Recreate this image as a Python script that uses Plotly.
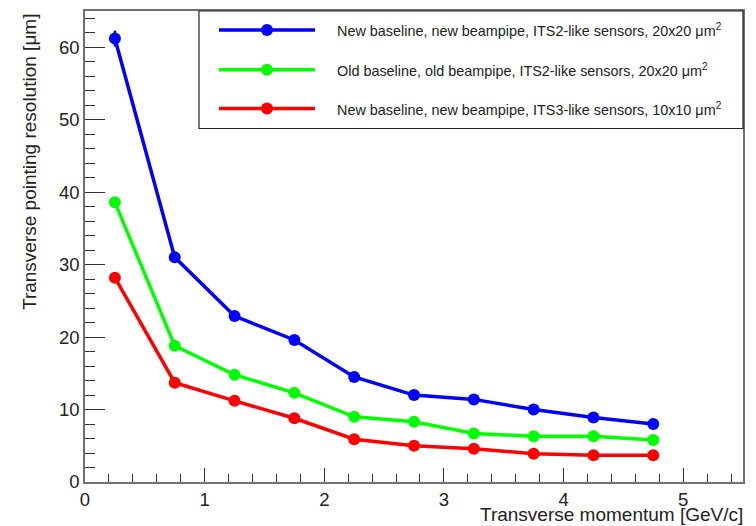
import plotly.graph_objects as go

# ---- data ----
pt = [0.25, 0.75, 1.25, 1.75, 2.25, 2.75, 3.25, 3.75, 4.25, 4.75]
res_new_its2 = [61.2, 31.0, 22.9, 19.6, 14.5, 12.0, 11.4, 10.0, 8.9, 8.0]
err_new_its2 = [1.1, 0.4, 0.3, 0.3, 0.2, 0.2, 0.2, 0.2, 0.2, 0.2]
res_old_its2 = [38.6, 18.8, 14.8, 12.3, 9.0, 8.3, 6.7, 6.3, 6.3, 5.8]
res_new_its3 = [28.2, 13.7, 11.2, 8.8, 5.9, 5.0, 4.6, 3.9, 3.7, 3.7]

series_names = [
    "New baseline, new beampipe, ITS2-like sensors, 20x20 μm<sup>2</sup>",
    "Old baseline, old beampipe, ITS2-like sensors, 20x20 μm<sup>2</sup>",
    "New baseline, new beampipe, ITS3-like sensors, 10x10 μm<sup>2</sup>",
]
series_colors = ["#0000ff", "#00ff00", "#ff0000"]

x_title = "Transverse momentum [GeV/c]"
y_title = "Transverse pointing resolution [μm]"

FONT = "Liberation Sans, Arial, Helvetica, sans-serif"

# ---- geometry (pixels) ----
W, H = 756, 526
L, R, T, B = 85, 13, 9, 44
PW, PH = W - L - R, H - T - B


def px(xp):
    return (xp - L) / PW


def py(yp):
    return (H - B - yp) / PH


fig = go.Figure()

all_series = [res_new_its2, res_old_its2, res_new_its3]
for i, (vals, col) in enumerate(zip(all_series, series_colors)):
    kw = {}
    if i == 0:
        kw["error_y"] = dict(type="data", array=err_new_its2, color=col, thickness=2.5, width=0)
    fig.add_trace(go.Scatter(
        x=pt, y=vals, mode="lines+markers",
        line=dict(color=col, width=3.5),
        marker=dict(color=col, size=12),
        name=series_names[i], showlegend=False, **kw))

axis_common = dict(
    showgrid=False, zeroline=False, showline=True, mirror=True,
    linecolor="#707070", linewidth=1.5,
    ticks="inside", tickwidth=1.2, tickcolor="#333333",
    tickfont=dict(family=FONT, size=18.5, color="#222222"),
)

fig.update_xaxes(range=[0, 5.5], dtick=1, tick0=0, ticklen=14,
                 minor=dict(ticks="inside", dtick=0.2, ticklen=8, tickwidth=1.2, tickcolor="#333333"),
                 ticklabelstandoff=0,
                 **axis_common)
fig.update_yaxes(range=[0, 65], dtick=10, tick0=0, ticklen=20,
                 minor=dict(ticks="inside", dtick=2, ticklen=10, tickwidth=1.2, tickcolor="#333333"),
                 **axis_common)

shapes = []
annotations = []

# legend box
shapes.append(dict(type="rect", xref="paper", yref="paper",
                   x0=px(199), x1=px(743), y0=py(127), y1=py(9),
                   line=dict(color="#222222", width=1.2), fillcolor="white", layer="above"))
leg_y = [28, 68, 107]
for name, col, yy in zip(series_names, series_colors, leg_y):
    shapes.append(dict(type="line", xref="paper", yref="paper",
                       x0=px(219), x1=px(315), y0=py(yy), y1=py(yy),
                       line=dict(color=col, width=3.5), layer="above"))
    shapes.append(dict(type="circle", xref="paper", yref="paper",
                       xsizemode="pixel", ysizemode="pixel",
                       xanchor=px(267), yanchor=py(yy),
                       x0=-6, x1=6, y0=-6, y1=6,
                       line=dict(color=col, width=0), fillcolor=col, layer="above"))
    annotations.append(dict(text=name, xref="paper", yref="paper",
                            x=px(335), y=py(yy), xanchor="left", yanchor="middle",
                            showarrow=False, font=dict(family=FONT, size=14.4, color="#222222")))

# axis titles
annotations.append(dict(text=x_title, xref="paper", yref="paper",
                        x=px(745), y=py(502), xanchor="right", yanchor="top",
                        showarrow=False, font=dict(family=FONT, size=19, color="#222222")))
annotations.append(dict(text=y_title, xref="paper", yref="paper",
                        x=px(30), y=py(10), xanchor="center", yanchor="top", textangle=-90,
                        showarrow=False, font=dict(family=FONT, size=19, color="#222222")))

fig.update_layout(
    width=W, height=H,
    margin=dict(l=L, r=R, t=T, b=B),
    paper_bgcolor="white", plot_bgcolor="white",
    showlegend=False,
    shapes=shapes, annotations=annotations,
    font=dict(family=FONT),
)

fig.write_html("out.html")
